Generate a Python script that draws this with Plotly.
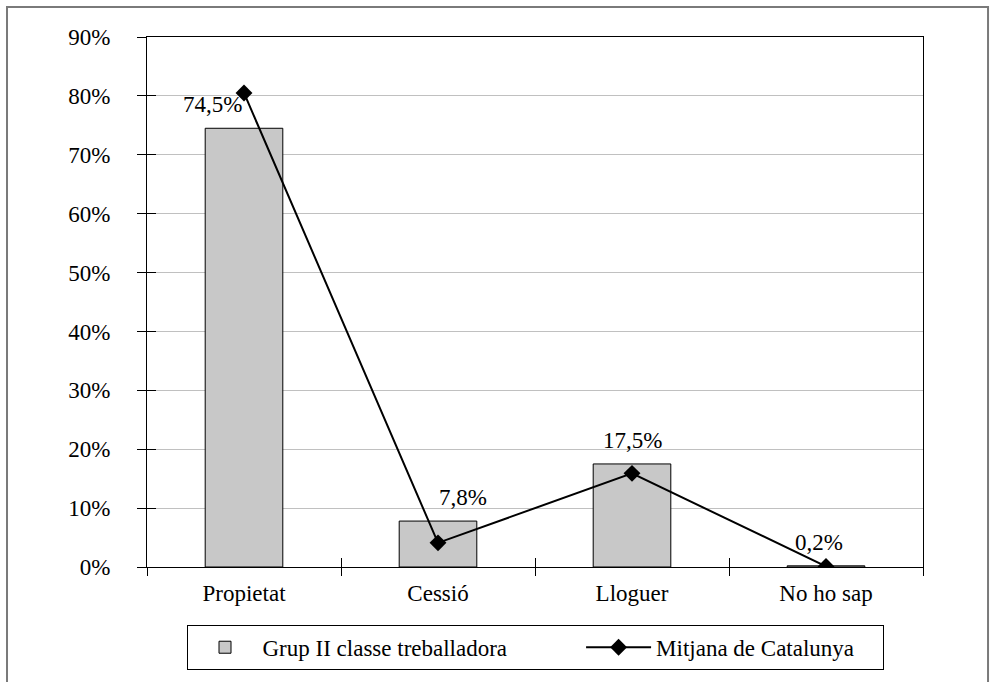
import plotly.graph_objects as go

categories = ["Propietat", "Cessió", "Lloguer", "No ho sap"]
grup_ii = [74.5, 7.8, 17.5, 0.2]
mitjana = [80.5, 4.1, 15.9, 0.1]
y_ticks = [0, 10, 20, 30, 40, 50, 60, 70, 80, 90]
y_tick_labels = [f"{v}%" for v in y_ticks]

FONT = "Liberation Serif, Times New Roman, DejaVu Serif, serif"
FS = 23

# nudges of the data labels, as in the original
label_dx = [-32, 25, 0, -7]

fig = go.Figure()

fig.add_trace(go.Bar(
    x=categories, y=grup_ii,
    # trailing nbsp: spaces the legend entries like the original
    name="Grup II classe treballadora" + "\u00a0" * 12,
    width=0.4,
    marker=dict(color="#c8c8c8", line=dict(color="black", width=1)),
    hoverinfo="x+y",
))

fig.add_trace(go.Scatter(
    x=categories, y=mitjana, name="Mitjana de Catalunya" + "\u00a0" * 4,
    mode="lines+markers",
    line=dict(color="black", width=2),
    marker=dict(symbol="diamond", size=13, color="black"),
))

# empty trace so the overlay axes (inside half of the crossing ticks) get drawn
fig.add_trace(go.Scatter(x=[None], y=[None], xaxis="x2", yaxis="y2",
                         showlegend=False, hoverinfo="skip"))

for cat, v, dx in zip(categories, grup_ii, label_dx):
    fig.add_annotation(
        x=cat, y=v, text=f"{v:.1f}".replace(".", ",") + "%",
        showarrow=False, yanchor="bottom", yshift=9, xshift=dx,
        font=dict(family=FONT, size=FS, color="black"),
    )

# outer frame of the figure
fig.add_shape(type="rect", xref="paper", yref="paper",
              x0=-0.1804, x1=1.0838, y0=-0.35, y1=1.0566,
              line=dict(color="#7a7a7a", width=2), layer="below")

fig.update_layout(
    width=991, height=682,
    margin=dict(l=147, r=68, t=37, b=115),
    paper_bgcolor="white", plot_bgcolor="white",
    font=dict(family=FONT, size=FS, color="black"),
    showlegend=True,
    legend=dict(
        orientation="h", x=0.5, xanchor="center", y=-0.109, yanchor="top",
        bordercolor="black", borderwidth=1, itemwidth=65,
        font=dict(family=FONT, size=FS, color="black"),
    ),
    xaxis=dict(
        type="category", range=[-0.5, 3.5],
        showline=True, linecolor="black", linewidth=1, mirror=True,
        ticks="outside", tickson="boundaries", ticklen=8, tickcolor="black",
        ticklabelstandoff=5, showgrid=False, zeroline=False,
    ),
    yaxis=dict(
        range=[0, 90], tickvals=y_ticks, ticktext=y_tick_labels,
        showline=True, linecolor="black", linewidth=1, mirror=True,
        ticks="outside", ticklen=9, tickcolor="black",
        ticklabelstandoff=22,
        showgrid=True, gridcolor="#c0c0c0", gridwidth=1, zeroline=False,
    ),
    xaxis2=dict(
        overlaying="x", anchor="y", side="bottom", range=[-0.5, 3.5],
        tickvals=[-0.5, 0.5, 1.5, 2.5, 3.5], ticks="inside", ticklen=9,
        tickcolor="black", showticklabels=False, showgrid=False,
        showline=False, zeroline=False,
    ),
    yaxis2=dict(
        overlaying="y", anchor="x", side="left", range=[0, 90],
        tickvals=y_ticks, ticks="inside", ticklen=9, tickcolor="black",
        showticklabels=False, showgrid=False, showline=False, zeroline=False,
    ),
)

# the page's default body margin would push the chart 8px off
fig.write_html("out.html", config={"displayModeBar": False},
               post_script="document.body.style.margin='0';")
